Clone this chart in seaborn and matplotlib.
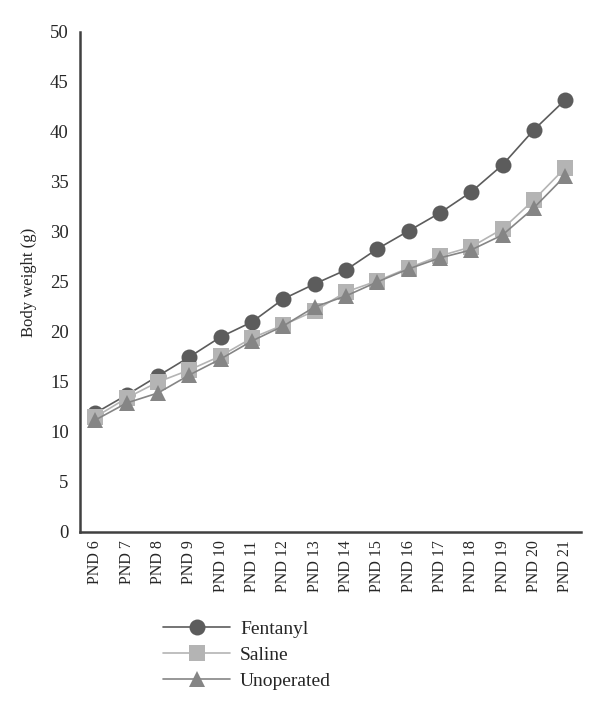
import numpy as np
import pandas as pd
import seaborn as sns
import matplotlib.pyplot as plt

# Body weight per postnatal day
days = ['PND 6', 'PND 7', 'PND 8', 'PND 9', 'PND 10', 'PND 11', 'PND 12', 'PND 13',
        'PND 14', 'PND 15', 'PND 16', 'PND 17', 'PND 18', 'PND 19', 'PND 20', 'PND 21']
fentanyl = [11.9, 13.7, 15.6, 17.5, 19.5, 21.0, 23.3, 24.8,
            26.2, 28.3, 30.1, 31.9, 34.0, 36.7, 40.2, 43.2]
saline = [11.5, 13.4, 15.0, 16.2, 17.6, 19.4, 20.7, 22.1,
          24.0, 25.1, 26.4, 27.6, 28.5, 30.3, 33.2, 36.4]
unoperated = [11.2, 12.9, 13.9, 15.7, 17.3, 19.1, 20.6, 22.5,
              23.6, 25.0, 26.3, 27.4, 28.2, 29.7, 32.4, 35.6]

groups = ['Fentanyl', 'Saline', 'Unoperated']
df = pd.DataFrame({
    'day': days * 3,
    'x': list(range(len(days))) * 3,
    'weight': fentanyl + saline + unoperated,
    'group': np.repeat(groups, len(days)),
})

sns.set_style('white')
plt.rcParams['font.family'] = ['Liberation Serif', 'DejaVu Serif']

fig = plt.figure(figsize=(6, 7.09), dpi=100)
ax = fig.add_axes([0.133, 0.2497, 0.835, 0.7053])

colors = {'Fentanyl': '#5c5c5c', 'Saline': '#b4b4b4', 'Unoperated': '#858585'}
markers = {'Fentanyl': 'o', 'Saline': 's', 'Unoperated': '^'}
sizes = {'Fentanyl': 11.5, 'Saline': 11, 'Unoperated': 12}

for g in groups:
    sub = df[df['group'] == g]
    sns.lineplot(data=sub, x='x', y='weight', ax=ax, color=colors[g],
                 marker=markers[g], markersize=sizes[g], markeredgewidth=0,
                 linewidth=1.2, label=g)

ax.set_xlim(-0.5, 15.5)
ax.set_ylim(0, 50)
ax.set_yticks(range(0, 51, 5))
ax.set_xticks(range(len(days)))
ax.set_xticklabels(days, rotation=90, fontsize=11.5)
ax.tick_params(axis='y', labelsize=13.5, length=0, pad=8)
ax.tick_params(axis='x', length=0, pad=6)
ax.set_xlabel('')
ax.set_ylabel('Body weight (g)', fontsize=12, labelpad=9)

for s in ['top', 'right']:
    ax.spines[s].set_visible(False)
for s in ['left', 'bottom']:
    ax.spines[s].set_color('#404040')
    ax.spines[s].set_linewidth(1.8)

ax.legend(loc='upper left', bbox_to_anchor=(0.272, 0.125), bbox_transform=fig.transFigure,
          frameon=False, fontsize=14, handlelength=3.45, handletextpad=0.5,
          labelspacing=0.42, borderaxespad=0, borderpad=0)

fig.savefig('out.png', dpi=100)
